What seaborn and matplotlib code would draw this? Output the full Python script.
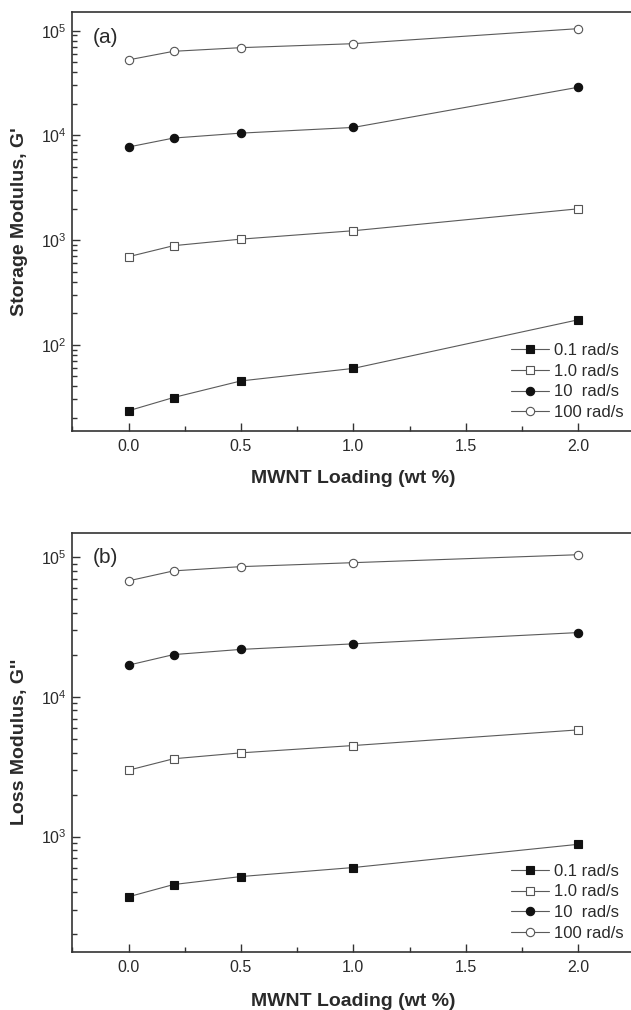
import numpy as np
import pandas as pd
import matplotlib
matplotlib.use("Agg")
import matplotlib.pyplot as plt
import seaborn as sns
from matplotlib.ticker import LogLocator, FuncFormatter, MultipleLocator, NullFormatter

# ---- data ----
loading = [0.0, 0.2, 0.5, 1.0, 2.0]
freq_labels = ["0.1 rad/s", "1.0 rad/s", "10  rad/s", "100 rad/s"]

storage_01 = [23.4, 31.3, 45.1, 59.4, 173]
storage_1 = [693, 883, 1020, 1227, 1987]
storage_10 = [7740, 9420, 10500, 11900, 28800]
storage_100 = [52600, 63500, 68800, 75100, 104500]

loss_01 = [371, 454, 518, 601, 881]
loss_1 = [2990, 3610, 3980, 4490, 5810]
loss_10 = [16900, 20100, 21900, 24000, 28900]
loss_100 = [67800, 79900, 85700, 91500, 104300]

x_ticks = [0.0, 0.5, 1.0, 1.5, 2.0]

sns.set_style("ticks")
plt.rcParams["font.family"] = ["Liberation Sans", "DejaVu Sans"]
plt.rcParams["mathtext.default"] = "regular"

LINE = "#5a5a5a"
BLACK = "#111111"
TXT = "#2a2a2a"

styles = [
    dict(marker="s", markerfacecolor=BLACK, markeredgecolor=BLACK, markersize=5.2),
    dict(marker="s", markerfacecolor="white", markeredgecolor="#555555", markersize=5.2),
    dict(marker="o", markerfacecolor=BLACK, markeredgecolor=BLACK, markersize=6.0),
    dict(marker="o", markerfacecolor="white", markeredgecolor="#555555", markersize=6.0),
]

fig = plt.figure(figsize=(6.31, 10.10), dpi=100)
ax1 = fig.add_axes([0.1147, 0.5733, 0.8906, 0.4146])
ax2 = fig.add_axes([0.1147, 0.0577, 0.8906, 0.4149])


def sci(v, pos):
    if v <= 0:
        return ""
    e = int(round(np.log10(v)))
    if abs(np.log10(v) - e) > 1e-6:
        return ""
    return r"$\mathregular{10^{%d}}$" % e


def draw(ax, series, ylim, ylabel, tag, xlab_y):
    for vals, lab, st in zip(series, freq_labels, styles):
        df = pd.DataFrame({"x": loading, "y": vals})
        sns.lineplot(data=df, x="x", y="y", ax=ax, color=LINE, linewidth=0.8,
                     markeredgewidth=0.8, label=lab, errorbar=None, **st)
    ax.set_yscale("log")
    ax.set_xlim(-0.25, 2.25)
    ax.set_ylim(*ylim)
    ax.set_xticks(x_ticks)
    ax.set_xticklabels([f"{t:.1f}" for t in x_ticks])
    ax.xaxis.set_minor_locator(MultipleLocator(0.25))
    ax.yaxis.set_major_locator(LogLocator(base=10))
    ax.yaxis.set_minor_locator(LogLocator(base=10, subs=np.arange(2, 10)))
    ax.yaxis.set_major_formatter(FuncFormatter(sci))
    ax.yaxis.set_minor_formatter(NullFormatter())
    ax.tick_params(axis="both", which="both", direction="in", top=False, right=False,
                   colors="#333333", labelcolor=TXT, labelsize=11.5, width=1.0)
    ax.tick_params(axis="both", which="major", length=6)
    ax.tick_params(axis="both", which="minor", length=3.5)
    ax.tick_params(axis="x", which="major", pad=6)
    ax.tick_params(axis="y", which="major", pad=4)
    for s in ax.spines.values():
        s.set_linewidth(1.2)
        s.set_color("#333333")
    ax.set_xlabel("MWNT Loading (wt %)", fontsize=14, fontweight="bold", color=TXT)
    ax.set_ylabel(ylabel, fontsize=14, fontweight="bold", color=TXT)
    ax.xaxis.set_label_coords(0.5, xlab_y)
    ax.yaxis.set_label_coords(-0.079, 0.5)
    ax.text(0.036, 0.94, tag, transform=ax.transAxes, fontsize=15, color=TXT,
            ha="left", va="center")
    ax.legend(loc="lower left", bbox_to_anchor=(0.781, 0.026), frameon=False,
              fontsize=12, borderpad=0, borderaxespad=0, handlelength=2.25,
              handletextpad=0.3, labelspacing=0.34, labelcolor=TXT)


draw(ax1, [storage_01, storage_1, storage_10, storage_100], (15, 1.5e5),
     "Storage Modulus, G'", "(a)", -0.093)
draw(ax2, [loss_01, loss_1, loss_10, loss_100], (150, 1.5e5),
     "Loss Modulus, G''", "(b)", -0.098)

fig.savefig("out.png", dpi=100)
